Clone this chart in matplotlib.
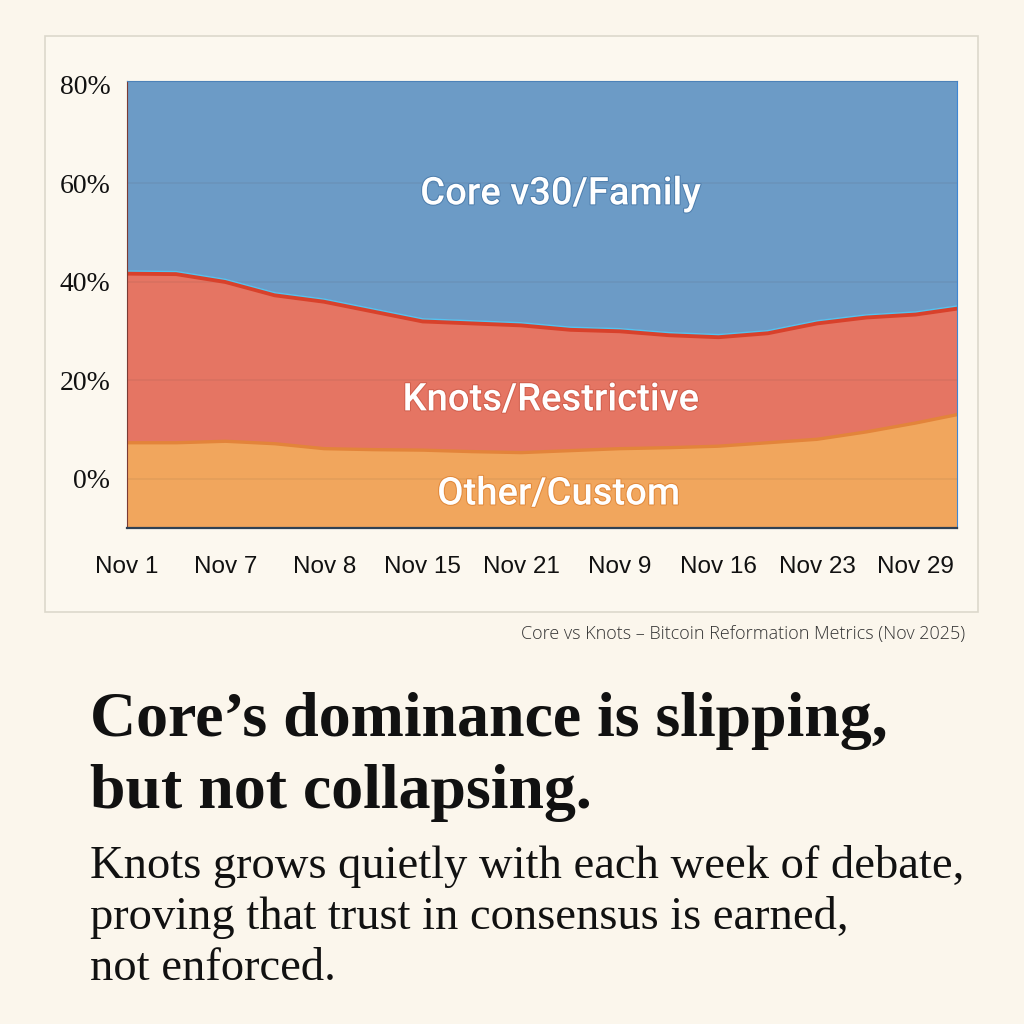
import matplotlib
matplotlib.use('Agg')
import matplotlib.pyplot as plt
import matplotlib.patheffects as pe
from matplotlib.patches import Rectangle
from matplotlib.transforms import offset_copy

# Stacked shares (boundary levels in %)
x_pos = [0, 0.5, 1, 1.5, 2, 2.5, 3, 3.5, 4, 4.5, 5, 5.5, 6, 6.5, 7, 7.5, 8, 8.42]
other_top = [7.3, 7.3, 7.6, 7.1, 6.1, 5.9, 5.8, 5.5, 5.3, 5.7, 6.1, 6.3, 6.6, 7.3, 8.0, 9.5, 11.3, 13.0]
knots_top = [41.7, 41.6, 40.0, 37.3, 36.0, 34.0, 32.0, 31.6, 31.2, 30.3, 30.0, 29.2, 28.8, 29.6, 31.6, 32.8, 33.4, 34.6]
core_top = 80.7
base = -10

tick_labels = ["Nov 1", "Nov 7", "Nov 8", "Nov 15", "Nov 21", "Nov 9", "Nov 16", "Nov 23", "Nov 29"]
y_ticks = [0, 20, 40, 60, 80]

BG = '#fbf6ec'
BLUE = '#6c9bc6'
RED = '#e57563'
ORANGE = '#f1a65d'

fig = plt.figure(figsize=(10.24, 10.24), dpi=100, facecolor=BG)
W = H = 1024.0

# card behind the chart
card = Rectangle((45 / W, 1 - 612 / H), 933 / W, 576 / H, transform=fig.transFigure,
                 facecolor='#fcf8ef', edgecolor='#dcd8cc', lw=1.2, zorder=-1)
fig.patches.append(card)

ax = fig.add_axes([127 / W, 1 - 528 / H, 830 / W, 447 / H])
ax.set_zorder(1)
ax.set_facecolor(BLUE)

ax.fill_between(x_pos, base, other_top, color=ORANGE, lw=0, zorder=1)
ax.fill_between(x_pos, other_top, knots_top, color=RED, lw=0, zorder=1)
ax.fill_between(x_pos, knots_top, core_top, color=BLUE, lw=0, zorder=1)

# gridlines over the fills
for yv in y_ticks[:-1]:
    ax.axhline(yv, color='#5a4a40', alpha=0.09, lw=1.2, zorder=2)

# boundary lines
ax.plot(x_pos, other_top, color='#e3843a', lw=2.4, zorder=3)
ax.plot(x_pos, knots_top, color='#d8412b', lw=3.4, zorder=3)
ax.plot(x_pos, knots_top, color='#55c3f0', lw=1.0, zorder=4,
        transform=offset_copy(ax.transData, fig=fig, x=0, y=2.2, units='dots'))

ax.set_xlim(0, 8.42)
ax.set_ylim(base, core_top)
ax.set_xticks(range(len(tick_labels)))
ax.set_xticklabels(tick_labels, fontsize=17.5, family='Liberation Sans', color='#111111')
ax.set_yticks(y_ticks)
ax.set_yticklabels([f"{v}%" for v in y_ticks], fontsize=20, family='Liberation Serif', color='#111111')
ax.tick_params(axis='both', length=0)
ax.tick_params(axis='x', pad=20)
ax.tick_params(axis='y', pad=12)

ax.spines['bottom'].set_color('#2f4154')
ax.spines['bottom'].set_linewidth(1.6)
ax.spines['top'].set_color('#4d82b8')
ax.spines['right'].set_color('#3d86d4')
ax.spines['left'].set_color('#7a3b34')
for s in ax.spines.values():
    s.set_zorder(5)

# in-area labels
lab = dict(ha='center', va='center', color='white', fontsize=27.5, family='Roboto',
           weight='medium', zorder=6)
ax.text(4.4, 57.8, "Core v30/Family", path_effects=[pe.withStroke(linewidth=1.5, foreground='#4f7fae')], **lab)
ax.text(4.3, 16.0, "Knots/Restrictive", path_effects=[pe.withStroke(linewidth=1.5, foreground='#d2604e')], **lab)
ax.text(4.38, -3.1, "Other/Custom", path_effects=[pe.withStroke(linewidth=1.5, foreground='#e28a3c')], **lab)

# caption under the card
fig.text(965 / W, 1 - 634 / H, "Core vs Knots \u2013 Bitcoin Reformation Metrics (Nov 2025)",
         ha='right', va='center', fontsize=13, family='Open Sans', weight='light', color='#333333')

# headline and subtitle
fig.text(90 / W, 1 - 736 / H, "Core\u2019s dominance is slipping,", ha='left', va='baseline',
         fontsize=46, family='Liberation Serif', weight='bold', color='#111111')
fig.text(90 / W, 1 - 808 / H, "but not collapsing.", ha='left', va='baseline',
         fontsize=46, family='Liberation Serif', weight='bold', color='#111111')

sub_lines = ["Knots grows quietly with each week of debate,",
             "proving that trust in consensus is earned,",
             "not enforced."]
for i, line in enumerate(sub_lines):
    fig.text(90 / W, 1 - (878 + 51 * i) / H, line, ha='left', va='baseline',
             fontsize=33.5, family='Liberation Serif', color='#111111')

fig.savefig('out.png', dpi=100, facecolor=BG)
plt.close(fig)
